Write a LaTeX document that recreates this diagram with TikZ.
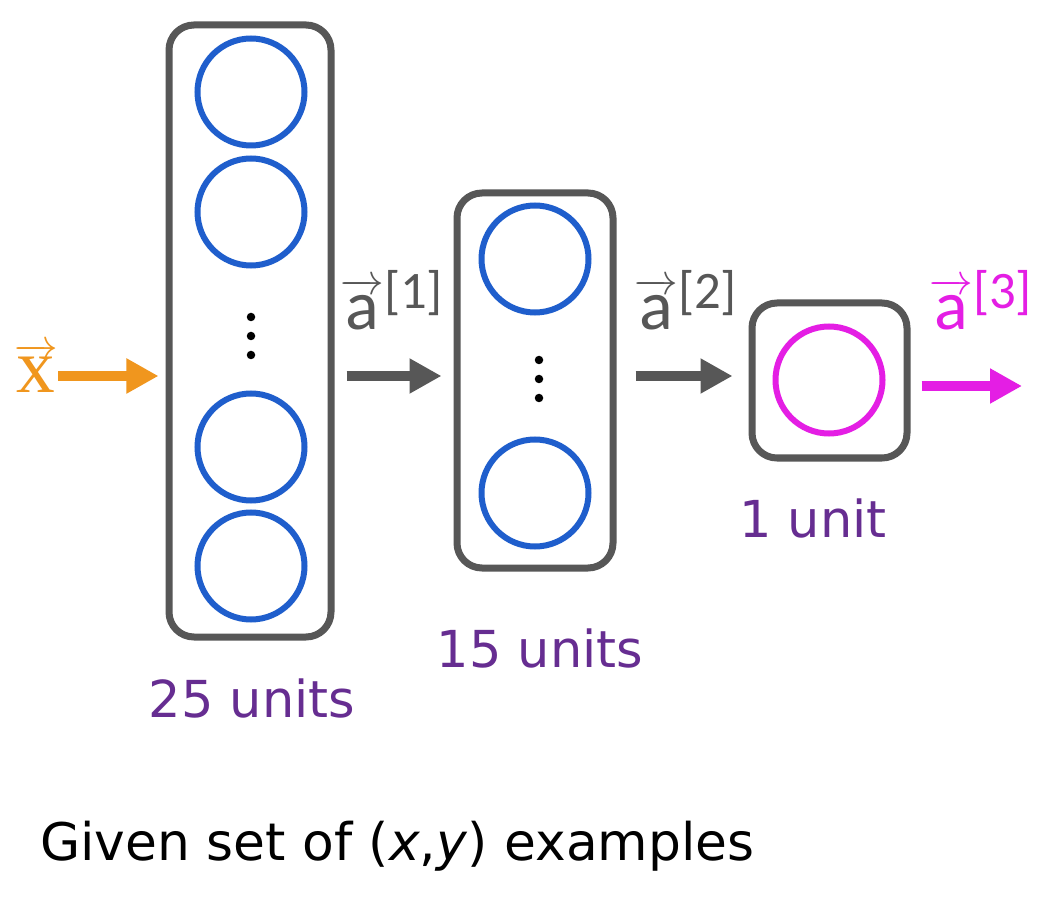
\documentclass[tikz,border=0pt]{standalone}
\usepackage{fontspec}
\setmainfont{DejaVu Sans}
\newfontfamily\vecfont{Carlito}
\newfontfamily\serfont{Liberation Serif}
\usetikzlibrary{positioning, arrows.meta}

\definecolor{boxgray}{HTML}{575757}
\definecolor{unitblue}{HTML}{1F5ECC}
\definecolor{outmag}{HTML}{E41EE4}
\definecolor{inorange}{HTML}{F0961E}
\definecolor{unitpurple}{HTML}{662D91}

\newcommand{\veclab}[2]{{\vecfont\fontsize{40}{44}\selectfont$\overrightarrow{\hbox{\raisebox{0pt}[7.4mm]{#1}}}$\raisebox{4.2mm}{\fontsize{30}{34}\selectfont[#2]}}}

\tikzset{
  layer/.style={draw=boxgray, line width=1.4mm, rounded corners=5mm, inner sep=0pt},
  unit/.style={circle, draw=unitblue, line width=1.2mm, minimum size=21.4mm, inner sep=0pt},
  flow/.style={line width=2mm, -{Triangle[length=6.4mm,width=6.6mm]}},
  count/.style={text=unitpurple, inner sep=0pt, anchor=base, font=\fontsize{29}{34}\selectfont},
  veclabel/.style={inner sep=0pt, anchor=base west}
}

\begin{document}
\begin{tikzpicture}[x=0.2mm, y=-0.2mm]
\fill[white] (0,0) rectangle (1052,898);
\useasboundingbox (0,0) rectangle (1052,898);

% layers
\node[layer, minimum width=32.4mm, minimum height=122.4mm] (L1) at (250,331) {};
\node[layer, minimum width=31.2mm, minimum height=75mm] (L2) at (535,380.5) {};
\node[layer, minimum width=31mm, minimum height=31mm] (L3) at (829.5,380.5) {};

% units
\node[unit] (u11) at (251,92) {};
\node[unit] (u12) at (251,212) {};
\node[unit] (u13) at (251,447) {};
\node[unit] (u14) at (251,566) {};
\fill (251,317) circle (0.85mm) (251,336) circle (0.85mm) (251,355) circle (0.85mm);

\node[unit] (u21) at (535,259) {};
\node[unit] (u22) at (535,493) {};
\fill (539,360) circle (0.85mm) (539,379) circle (0.85mm) (539,398) circle (0.85mm);

\node[unit, draw=outmag] (u31) at (829,380) {};

% connectors
\coordinate (xin) at (58,376);
\coordinate (xout) at (1022,386);
\draw[flow, inorange, shorten >=1.4mm] (xin) -- (xin -| L1.west);
\draw[flow, boxgray, shorten <=2.4mm, shorten >=2.4mm] (L1.east |- xin) -- (L2.west |- xin);
\draw[flow, boxgray, shorten <=3.8mm, shorten >=3.2mm] (L2.east |- xin) -- (L3.west |- xin);
\draw[flow, outmag, shorten <=2.2mm] (L3.east |- xout) -- (xout);

% labels
\node[veclabel, text=inorange] (lx) at (14,393) {{\serfont\fontsize{44}{48}\selectfont$\overrightarrow{\hbox{\raisebox{0pt}[7mm]{x}}}$}};
\node[veclabel, text=boxgray] (la1) at (340,330) {\veclab{a}{1}};
\node[veclabel, text=boxgray] (la2) at (634,330) {\veclab{a}{2}};
\node[veclabel, text=outmag] (la3) at (929,330) {\veclab{a}{3}};

\node[count] (c1) at (252,717) {25 units};
\node[count] (c2) at (540,667) {15 units};
\node[count] (c3) at (813,538) {1 unit};

\node[inner sep=0pt, anchor=base west, font=\fontsize{29.5}{34}\selectfont] (given) at (40,860) {Given set of (\textit{x},\textit{y}) examples};
\end{tikzpicture}
\end{document}
